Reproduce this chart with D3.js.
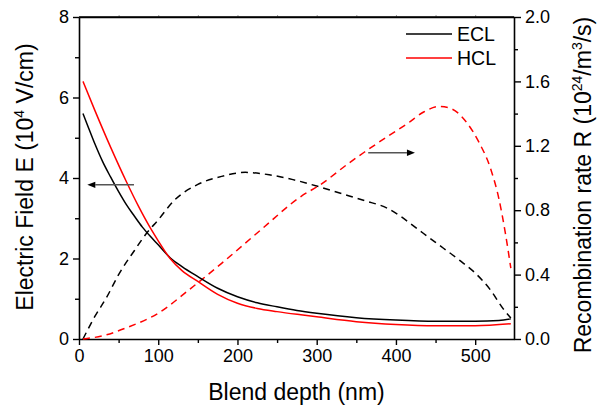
<!DOCTYPE html>
<html><head><meta charset="utf-8">
<script src="https://cdn.jsdelivr.net/npm/d3@7"></script>
<style>
html,body{margin:0;padding:0;background:#fff;}
svg{display:block;font-family:"Liberation Sans",Arial,sans-serif;}
</style></head>
<body><svg id="c" width="597" height="409"></svg>
<script>
// ---- data ----
const eclE_x = [5,10,20,30,40,50,60,70,80,90,100,115,130,150,175,200,225,250,275,300,350,400,450,500,530,545];
const eclE_y = [5.60,5.35,4.85,4.40,4.02,3.66,3.33,3.05,2.78,2.55,2.34,2.02,1.80,1.55,1.26,1.05,0.90,0.80,0.71,0.64,0.53,0.47,0.44,0.44,0.46,0.50];
const hclE_x = [5,20,40,60,75,90,100,115,130,150,175,200,225,250,280,300,350,400,450,500,545];
const hclE_y = [6.40,5.68,4.76,3.90,3.30,2.76,2.44,2.00,1.70,1.43,1.11,0.89,0.76,0.68,0.60,0.55,0.43,0.36,0.33,0.33,0.38];
const eclR_x = [5,20,35,50,70,85,100,120,150,180,210,240,270,300,330,360,390,405,420,450,480,500,520,535,545];
const eclR_y = [0.00,0.14,0.26,0.40,0.55,0.655,0.74,0.86,0.96,1.01,1.035,1.02,0.99,0.95,0.905,0.86,0.81,0.765,0.71,0.60,0.49,0.41,0.30,0.19,0.13];
const hclR_x = [5,30,60,100,140,180,230,280,305,340,360,390,415,435,455,470,490,505,520,530,538,545];
const hclR_y = [0.00,0.02,0.07,0.16,0.31,0.47,0.68,0.885,0.96,1.09,1.16,1.26,1.34,1.41,1.445,1.43,1.34,1.22,1.05,0.87,0.66,0.44];
const xTicks = [0,100,200,300,400,500];
const xMinor = [50,150,250,350,450,550];
const eTicks = [0,2,4,6,8];
const eMinor = [1,3,5,7];
const rTicks = [0.0,0.4,0.8,1.2,1.6,2.0];
const rMinor = [0.2,0.6,1.0,1.4,1.8];
const legendLabels = ["ECL","HCL"];
const colors = ["#000000","#ff0000"];
// arrows in data units: [x from, x to(tip), level]
const arrowE = [69.4, 10.5, 3.83];
const arrowR = [365, 424, 1.157];

// ---- layout ----
const svg = d3.select("#c");
const L = 79, R = 514, T = 17, B = 339;
const x = d3.scaleLinear().domain([0,549]).range([L,R]);
const yE = d3.scaleLinear().domain([0,8]).range([B,T]);
const yR = d3.scaleLinear().domain([0,2]).range([B,T]);

const tickFont = "18px";
function styleAxis(g){ g.selectAll("path.domain").attr("stroke","#000").attr("stroke-width",1.6);
  g.selectAll(".tick line").attr("stroke","#000").attr("stroke-width",1.4);
  g.selectAll("text").attr("font-size",tickFont).attr("font-family","Liberation Sans, Arial, sans-serif").attr("fill","#000"); }

// bottom
const gx = svg.append("g").attr("transform",`translate(0,${B})`)
  .call(d3.axisBottom(x).tickValues(xTicks).tickSize(6).tickPadding(4).tickSizeOuter(0).tickFormat(d3.format("d")));
styleAxis(gx);
const gxm = svg.append("g").attr("transform",`translate(0,${B})`)
  .call(d3.axisBottom(x).tickValues(xMinor.filter(v=>v<549)).tickSize(4).tickFormat("").tickSizeOuter(0));
styleAxis(gxm); gxm.select("path.domain").remove();
// top
const gt = svg.append("g").attr("transform",`translate(0,${T})`)
  .call(d3.axisTop(x).tickValues(xTicks.concat(xMinor).filter(v=>v>0&&v<549)).tickSize(2).tickFormat("").tickSizeOuter(0));
styleAxis(gt); gt.selectAll(".tick line").attr("stroke-width",0.8).attr("stroke","#888");
// left
const gy = svg.append("g").attr("transform",`translate(${L},0)`)
  .call(d3.axisLeft(yE).tickValues(eTicks).tickSize(6).tickPadding(4).tickSizeOuter(0).tickFormat(d3.format("d")));
styleAxis(gy);
const gym = svg.append("g").attr("transform",`translate(${L},0)`)
  .call(d3.axisLeft(yE).tickValues(eMinor).tickSize(4).tickFormat("").tickSizeOuter(0));
styleAxis(gym); gym.select("path.domain").remove();
// right
const gr = svg.append("g").attr("transform",`translate(${R},0)`)
  .call(d3.axisRight(yR).tickValues(rTicks).tickSize(7).tickPadding(4).tickSizeOuter(0).tickFormat(d3.format(".1f")));
styleAxis(gr);
const grm = svg.append("g").attr("transform",`translate(${R},0)`)
  .call(d3.axisRight(yR).tickValues(rMinor).tickSize(4).tickFormat("").tickSizeOuter(0));
styleAxis(grm); grm.select("path.domain").remove();
// top frame line
svg.append("line").attr("x1",L).attr("x2",R).attr("y1",T).attr("y2",T).attr("stroke","#000").attr("stroke-width",1.6);

// ---- curves ----
const lineE = d3.line().x(d=>x(d[0])).y(d=>yE(d[1])).curve(d3.curveMonotoneX);
const lineR = d3.line().x(d=>x(d[0])).y(d=>yR(d[1])).curve(d3.curveMonotoneX);
const zip = (a,b)=>a.map((v,i)=>[v,b[i]]);
const plot = svg.append("g");
plot.append("path").datum(zip(eclR_x,eclR_y)).attr("d",lineR).attr("fill","none").attr("stroke",colors[0]).attr("stroke-width",1.5).attr("stroke-dasharray","7,5");
plot.append("path").datum(zip(hclR_x,hclR_y)).attr("d",lineR).attr("fill","none").attr("stroke",colors[1]).attr("stroke-width",1.5).attr("stroke-dasharray","7,5");
plot.append("path").datum(zip(eclE_x,eclE_y)).attr("d",lineE).attr("fill","none").attr("stroke",colors[0]).attr("stroke-width",1.5);
plot.append("path").datum(zip(hclE_x,hclE_y)).attr("d",lineE).attr("fill","none").attr("stroke",colors[1]).attr("stroke-width",1.5);

// ---- arrows ----
function arrow(x0,x1,yy){
  const dir = Math.sign(x1-x0), hl = 8, hw = 3.2;
  svg.append("line").attr("x1",x0).attr("x2",x1-dir*hl).attr("y1",yy).attr("y2",yy).attr("stroke","#555").attr("stroke-width",1.5);
  svg.append("path").attr("d",`M${x1},${yy}L${x1-dir*hl},${yy-hw}L${x1-dir*hl},${yy+hw}Z`).attr("fill","#000");
}
arrow(x(arrowE[0]),x(arrowE[1]),yE(arrowE[2]));
arrow(x(arrowR[0]),x(arrowR[1]),yR(arrowR[2]));

// ---- legend ----
const lg = svg.append("g");
legendLabels.forEach((lab,i)=>{
  const yy = 34 + i*24;
  lg.append("line").attr("x1",406).attr("x2",452).attr("y1",yy).attr("y2",yy).attr("stroke",colors[i]).attr("stroke-width",1.5);
  lg.append("text").attr("x",457).attr("y",yy+7).attr("font-size","19.5px").attr("fill","#000").text(lab);
});

// ---- titles ----
svg.append("text").attr("x",(L+R)/2).attr("y",400).attr("text-anchor","middle").attr("font-size","23px").text("Blend depth (nm)");
const lt = svg.append("text").attr("transform","translate(33,177) rotate(-90)").attr("text-anchor","middle").attr("font-size","23px");
lt.append("tspan").text("Electric Field E (10");
lt.append("tspan").attr("font-size","14px").attr("dy",-9).text("4");
lt.append("tspan").attr("dy",9).text(" V/cm)");
const rt = svg.append("text").attr("transform","translate(591,185) rotate(-90)").attr("text-anchor","middle").attr("font-size","23px");
rt.append("tspan").text("Recombination rate R (10");
rt.append("tspan").attr("font-size","14px").attr("dy",-9).text("24");
rt.append("tspan").attr("dy",9).text("/m");
rt.append("tspan").attr("font-size","14px").attr("dy",-9).text("3");
rt.append("tspan").attr("dy",9).text("/s)");
</script></body></html>
